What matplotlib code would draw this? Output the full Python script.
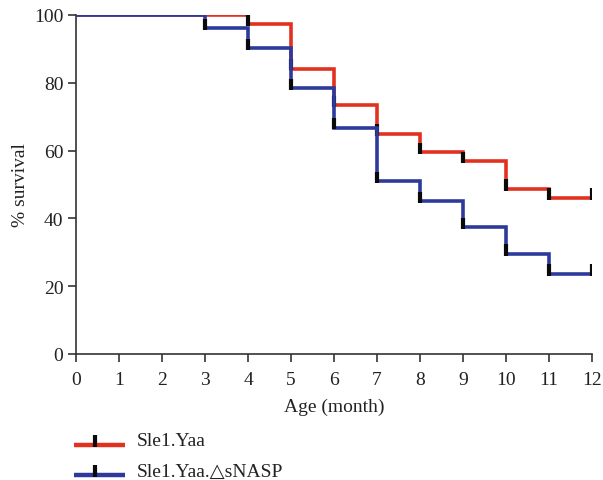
import matplotlib
matplotlib.use("Agg")
import matplotlib.pyplot as plt
from matplotlib.lines import Line2D

plt.rcParams['font.family'] = ['Liberation Serif', 'DejaVu Serif']

# Data
months = [0, 1, 2, 3, 4, 5, 6, 7, 8, 9, 10, 11, 12]
red_times = [0, 4, 5, 6, 7, 8, 9, 10, 11, 12]
red_surv = [100, 97.3, 84.1, 73.3, 64.9, 59.5, 56.8, 48.7, 46.0, 46.0]
blue_times = [0, 3, 4, 5, 6, 7, 8, 9, 10, 11, 12]
blue_surv = [100, 96.0, 90.2, 78.4, 66.7, 51.0, 45.1, 37.4, 29.5, 23.6, 23.6]
series_names = ["Sle1.Yaa", "Sle1.Yaa.\u25b3sNASP"]
red_col = "#E2321F"
blue_col = "#2D3A9C"
tick_col = "#0a0a0a"

fig = plt.figure(figsize=(6.03, 4.81), dpi=100)
ax = fig.add_axes([0.126, 0.262, 0.856, 0.705])

def draw(times, surv, col, z):
    ax.step(times, surv, where='post', color=col, lw=2.6, zorder=z,
            solid_capstyle='butt', solid_joinstyle='miter')
    ax.vlines(times[1:], [s - 0.5 for s in surv[1:]], [s + 2.8 for s in surv[1:]],
              color=tick_col, lw=3.0, zorder=z + 0.5)

draw(red_times, red_surv, red_col, 2)
draw(blue_times, blue_surv, blue_col, 3)

fs = 14
ax.set_xlim(0, 12)
ax.set_ylim(0, 100)
ax.set_xticks(months)
ax.set_yticks([0, 20, 40, 60, 80, 100])
for s in ['top', 'right']:
    ax.spines[s].set_visible(False)
for s in ['left', 'bottom']:
    ax.spines[s].set_color('#333333')
    ax.spines[s].set_linewidth(1.2)
ax.tick_params(direction='out', length=6, width=1.2, color='#333333',
               labelsize=fs, labelcolor='#222222', pad=3)
ax.tick_params(axis='x', pad=6)
ax.set_xlabel("Age (month)", fontsize=fs, color='#222222', labelpad=7)
ax.set_ylabel("% survival", fontsize=fs, color='#222222', labelpad=4)

# Legend
W, H = 603, 481
for i, (name, col) in enumerate(zip(series_names, [red_col, blue_col])):
    yl = 446 + i * 30
    fig.add_artist(Line2D([74 / W, 125 / W], [1 - yl / H, 1 - yl / H],
                          color=col, lw=3.2, solid_capstyle='butt'))
    fig.add_artist(Line2D([95 / W, 95 / W], [1 - (yl + 2) / H, 1 - (yl - 10) / H],
                          color=tick_col, lw=3.0, solid_capstyle='butt'))
    fig.text(137 / W, 1 - (yl - 4) / H, name, fontsize=fs, color='#222222',
             va='center', ha='left')

fig.savefig("out.png", dpi=100)
